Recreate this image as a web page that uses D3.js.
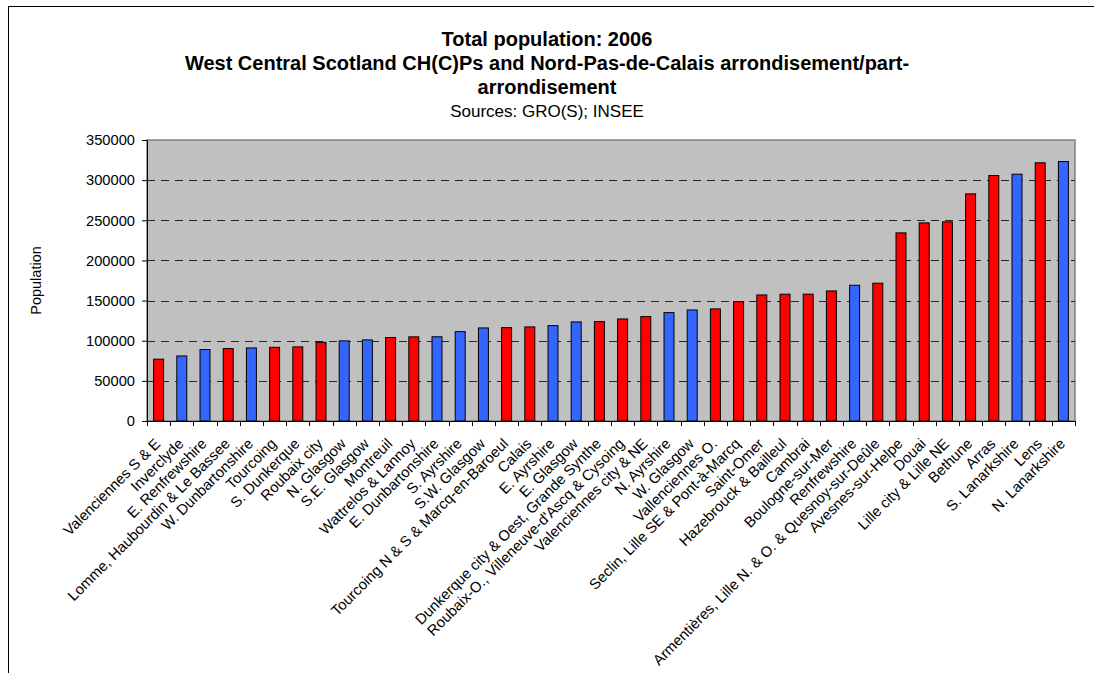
<!DOCTYPE html>
<html>
<head>
<meta charset="utf-8">
<script src="https://cdn.jsdelivr.net/npm/d3@7"></script>
<style>
  html, body { margin: 0; padding: 0; background: #fff; }
  svg { display: block; font-family: Arial, "Liberation Sans", sans-serif; }
</style>
</head>
<body>
<svg id="chart" width="1094" height="673"></svg>
<script>
// Areas, ordered by population
const areas = [
  "Valenciennes S & E", "Inverclyde", "E. Renfrewshire", "Lomme, Haubourdin & Le Bassee",
  "W. Dunbartonshire", "Tourcoing", "S. Dunkerque", "Roubaix city", "N. Glasgow",
  "S.E. Glasgow", "Montreuil", "Wattrelos & Lannoy", "E. Dunbartonshire", "S. Ayrshire",
  "S.W. Glasgow", "Tourcoing N & S & Marcq-en-Baroeul", "Calais", "E. Ayrshire",
  "E. Glasgow", "Dunkerque city & Oest, Grande Synthe",
  "Roubaix-O., Villeneuve-d'Ascq & Cysoing", "Valenciennes city & NE", "N. Ayrshire",
  "W. Glasgow", "Vallenciennes O.", "Seclin, Lille SE & Pont-à-Marcq", "Saint-Omer",
  "Hazebrouck & Bailleul", "Cambrai", "Boulogne-sur-Mer", "Renfrewshire",
  "Armentières, Lille N. & O. & Quesnoy-sur-Deûle", "Avesnes-sur-Helpe", "Douai",
  "Lille city & Lille NE", "Bethune", "Arras", "S. Lanarkshire", "Lens", "N. Lanarkshire"
];

// Total population, 2006
const population = [
  77000, 81000, 89000, 90200, 91000, 91800, 92300, 98000, 99800, 101000,
  104000, 104800, 104900, 111300, 115900, 116300, 117200, 118800, 123400, 123800,
  127100, 130000, 135000, 138300, 139600, 148700, 157000, 157900, 158000, 162000,
  169100, 171600, 234300, 246800, 248000, 282900, 305800, 307400, 321600, 323200
];

// Country of each area: S = West Central Scotland, F = Nord-Pas-de-Calais
const country = [
  "F","S","S","F","S","F","F","F","S","S",
  "F","F","S","S","S","F","F","S","S","F",
  "F","F","S","S","F","F","F","F","F","F",
  "S","F","F","F","F","F","F","S","F","S"
];

const yTicks = [0, 50000, 100000, 150000, 200000, 250000, 300000, 350000];

const titleLines = [
  "Total population: 2006",
  "West Central Scotland CH(C)Ps and Nord-Pas-de-Calais arrondisement/part-",
  "arrondisement"
];
const subtitle = "Sources: GRO(S); INSEE";
const yTitle = "Population";

const svg = d3.select("#chart");

// Outer chart frame
svg.append("rect")
  .attr("x", 8.5).attr("y", 6.5)
  .attr("width", 1200).attr("height", 700)
  .attr("fill", "#fff").attr("stroke", "#000").attr("stroke-width", 1);

const plot = { left: 147, right: 1075, top: 140, bottom: 421 };

const x = d3.scaleBand()
  .domain(areas)
  .range([plot.left, plot.right])
  .paddingInner(0.57)
  .paddingOuter(0.285);

const xBand = d3.scaleBand().domain(areas).range([plot.left, plot.right]);

const y = d3.scaleLinear().domain([0, 350000]).range([plot.bottom, plot.top]);

// Plot area background
svg.append("rect")
  .attr("x", plot.left).attr("y", plot.top)
  .attr("width", plot.right - plot.left).attr("height", plot.bottom - plot.top)
  .attr("fill", "#c0c0c0").attr("stroke", "#808080").attr("stroke-width", 1.5);

// Dashed gridlines
svg.append("g")
  .selectAll("line")
  .data(yTicks.filter(d => d > 0 && d < 350000))
  .join("line")
  .attr("x1", plot.left).attr("x2", plot.right)
  .attr("y1", d => Math.round(y(d)) + 0.5).attr("y2", d => Math.round(y(d)) + 0.5)
  .attr("stroke", "#222").attr("stroke-width", 1)
  .attr("stroke-dasharray", "8,6");

// Bars
svg.append("g")
  .selectAll("rect")
  .data(areas)
  .join("rect")
  .attr("x", d => x(d))
  .attr("width", x.bandwidth())
  .attr("y", (d, i) => y(population[i]))
  .attr("height", (d, i) => y(0) - y(population[i]))
  .attr("fill", (d, i) => country[i] === "S" ? "#3366ff" : "#ff0000")
  .attr("stroke", "#000").attr("stroke-width", 1);

// Y axis
const yAxis = svg.append("g")
  .attr("transform", `translate(${plot.left},0)`)
  .call(d3.axisLeft(y).tickValues(yTicks).tickSize(5).tickPadding(7).tickFormat(d3.format("d")));
yAxis.select(".domain").attr("stroke", "#000");
yAxis.selectAll(".tick line").attr("stroke", "#000");
yAxis.selectAll("text").attr("font-size", "14.7px").attr("fill", "#000")
  .attr("font-family", "Arial, 'Liberation Sans', sans-serif");

// X axis with ticks between categories
const xAxisG = svg.append("g").attr("transform", `translate(0,${plot.bottom})`);
xAxisG.append("line")
  .attr("x1", plot.left).attr("x2", plot.right)
  .attr("y1", 0.5).attr("y2", 0.5).attr("stroke", "#000");
xAxisG.selectAll("line.tk")
  .data(areas.concat([null]))
  .join("line").attr("class", "tk")
  .attr("x1", (d, i) => Math.round(plot.left + i * xBand.bandwidth()) + 0.5)
  .attr("x2", (d, i) => Math.round(plot.left + i * xBand.bandwidth()) + 0.5)
  .attr("y1", 0).attr("y2", 5)
  .attr("stroke", "#000");

// Rotated category labels
xAxisG.selectAll("text")
  .data(areas)
  .join("text")
  .attr("transform", d => `translate(${x(d) + x.bandwidth() / 2 - 1},${20}) rotate(-45)`)
  .attr("text-anchor", "end")
  .attr("dy", "0.35em")
  .attr("font-size", "14.8px")
  .attr("fill", "#000")
  .text(d => d);

// Y-axis title
svg.append("text")
  .attr("transform", `translate(41,${(plot.top + plot.bottom) / 2}) rotate(-90)`)
  .attr("text-anchor", "middle")
  .attr("font-size", "14.5px")
  .attr("fill", "#000")
  .text(yTitle);

// Titles
const cx = 547;
svg.append("g").selectAll("text")
  .data(titleLines)
  .join("text")
  .attr("x", cx)
  .attr("y", (d, i) => 46 + i * 24)
  .attr("text-anchor", "middle")
  .attr("font-size", "20px")
  .attr("font-weight", "bold")
  .attr("fill", "#000")
  .text(d => d);

svg.append("text")
  .attr("x", cx).attr("y", 117)
  .attr("text-anchor", "middle")
  .attr("font-size", "17px")
  .attr("fill", "#000")
  .text(subtitle);
</script>
</body>
</html>
